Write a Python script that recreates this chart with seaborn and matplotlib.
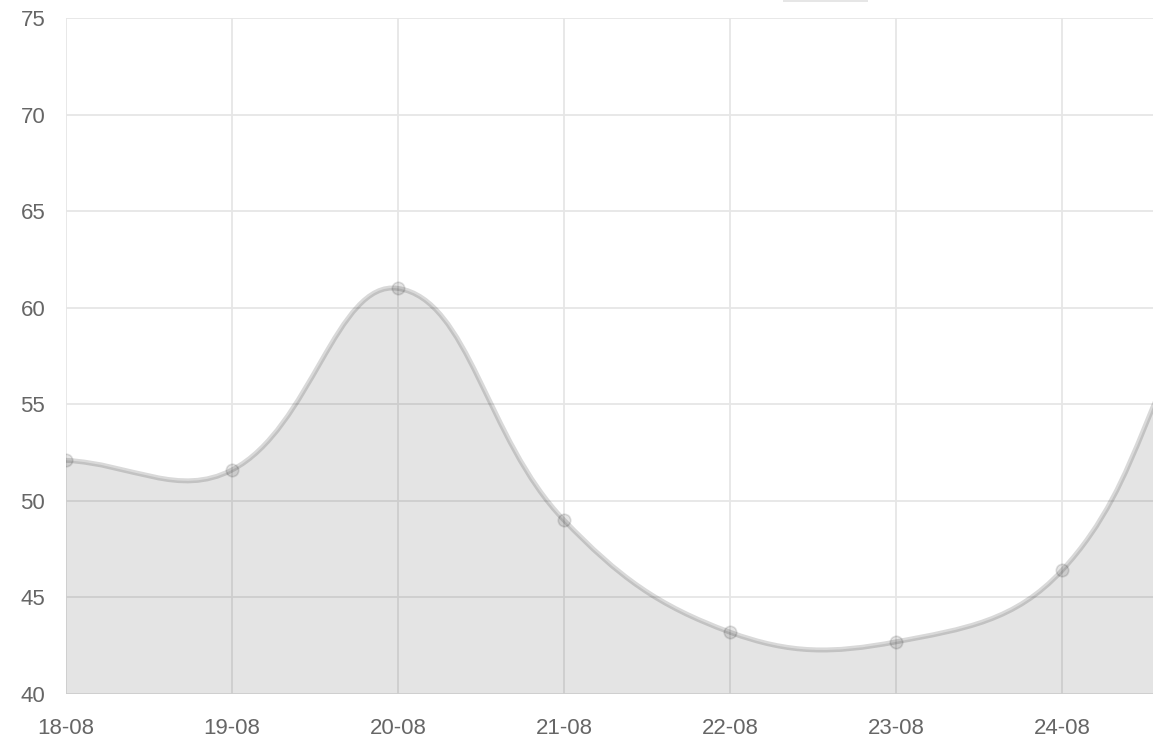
import matplotlib
matplotlib.use('Agg')
import matplotlib.pyplot as plt
from matplotlib.path import Path
from matplotlib.patches import PathPatch, Rectangle
import seaborn as sns
import pandas as pd
import numpy as np

# data (the last two days sit outside the visible area)
days = ['18-08', '19-08', '20-08', '21-08', '22-08', '23-08', '24-08', '25-08', '26-08']
values = [52.1, 51.6, 61.0, 49.0, 43.2, 42.7, 46.4, 61.3, 65.0]
y_ticks = [40, 45, 50, 55, 60, 65, 70, 75]

W, H = 1153, 743
LEFT, RIGHT, TOP, BOTTOM = 66, 1153, 18, 694
STEP = 166  # pixels between two day labels

sns.set_theme(style="whitegrid")
plt.rcParams['font.family'] = ['Liberation Sans', 'DejaVu Sans']

df = pd.DataFrame({'day': days, 'value': values})
df['pos'] = np.arange(len(df))


def spline_path(xs, ys, sx, sy, tension=0.4):
    """Bezier path with the same control-point rule Chart.js uses."""
    px, py = np.asarray(xs) * sx, np.asarray(ys) * sy
    n = len(px)
    cp_prev, cp_next = [], []
    for i in range(n):
        a = max(i - 1, 0)
        b = min(i + 1, n - 1)
        d01 = np.hypot(px[i] - px[a], py[i] - py[a])
        d12 = np.hypot(px[b] - px[i], py[b] - py[i])
        tot = d01 + d12
        s01 = d01 / tot if tot else 0
        s12 = d12 / tot if tot else 0
        fa, fb = tension * s01, tension * s12
        dx, dy = px[b] - px[a], py[b] - py[a]
        cp_prev.append((px[i] - fa * dx, py[i] - fa * dy))
        cp_next.append((px[i] + fb * dx, py[i] + fb * dy))
    verts = [(px[0], py[0])]
    codes = [Path.MOVETO]
    for i in range(n - 1):
        verts += [cp_next[i], cp_prev[i + 1], (px[i + 1], py[i + 1])]
        codes += [Path.CURVE4] * 3
    verts = [(x / sx, y / sy) for x, y in verts]
    return verts, codes


fig = plt.figure(figsize=(W / 100, H / 100), dpi=100)
ax = fig.add_axes([LEFT / W, 1 - BOTTOM / H, (RIGHT - LEFT) / W, (BOTTOM - TOP) / H])

ymin, ymax = y_ticks[0], y_ticks[-1]
px_per_unit = (BOTTOM - TOP) / (ymax - ymin)
verts, codes = spline_path(df['pos'], df['value'], STEP, px_per_unit)

# filled area down to the axis floor
fill_verts = verts + [(df['pos'].iloc[-1], ymin), (df['pos'].iloc[0], ymin), verts[0]]
fill_codes = codes + [Path.LINETO, Path.LINETO, Path.CLOSEPOLY]
ax.add_patch(PathPatch(Path(fill_verts, fill_codes), facecolor=(0, 0, 0, 0.105),
                       edgecolor='none', zorder=2))
ax.add_patch(PathPatch(Path(verts, codes), facecolor='none',
                       edgecolor=(0, 0, 0, 0.15), lw=3.6, zorder=3,
                       capstyle='round', joinstyle='round'))

sns.scatterplot(data=df, x='pos', y='value', ax=ax, s=80,
                color=(0, 0, 0, 0.1), edgecolor=(0, 0, 0, 0.12), linewidth=1.2,
                zorder=4, legend=False)

ax.set_xticks(df['pos'])
ax.set_xticklabels(df['day'])
ax.set_yticks(y_ticks)
ax.set_xlim(0, (RIGHT - LEFT) / STEP)
ax.set_ylim(ymin, ymax)
ax.set_xlabel('')
ax.set_ylabel('')

ax.set_axisbelow(True)
ax.grid(True, color='#e6e6e6', lw=1.3)
for s in ax.spines.values():
    s.set_visible(False)
ax.tick_params(axis='both', length=13, width=1.3, color='#e6e6e6',
               labelcolor='#666666', labelsize=16, pad=2)
ax.tick_params(axis='x', pad=4)

# small piece of the legend box at the top edge
fig.patches.append(Rectangle((783 / W, 1 - 2 / H), 85 / W, 2 / H,
                             transform=fig.transFigure, facecolor='#e6e6e6',
                             edgecolor='none'))

plt.savefig('out.png', dpi=100)
plt.close()
